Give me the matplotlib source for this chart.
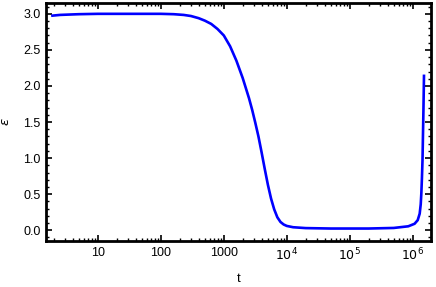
import matplotlib
matplotlib.use("Agg")
import matplotlib.pyplot as plt
from matplotlib.ticker import LogLocator, MultipleLocator, NullFormatter

plt.rcParams['font.family'] = ['Liberation Sans', 'DejaVu Sans']

# values
t = [1.9, 2.5, 3.5, 5, 10, 30, 100, 160, 230, 300, 398, 501, 631, 794, 1000,
     1259, 1585, 1995, 2512, 2818, 3162, 3548, 3981, 4467, 5012, 5623, 6310,
     7079, 7943, 8913, 10000, 12590, 19950, 5e4, 2e5, 5e5, 8.5e5, 1.07e6,
     1.2e6, 1.29e6, 1.34e6, 1.37e6, 1.40e6, 1.43e6, 1.48e6, 1.51e6]
eps = [2.975, 2.985, 2.99, 2.995, 3.0, 3.0, 3.0, 2.995, 2.985, 2.97, 2.94,
       2.905, 2.86, 2.79, 2.70, 2.55, 2.35, 2.11, 1.83, 1.67, 1.49, 1.30,
       1.08, 0.85, 0.63, 0.44, 0.29, 0.18, 0.115, 0.08, 0.06, 0.042, 0.03,
       0.024, 0.024, 0.032, 0.055, 0.09, 0.14, 0.23, 0.36, 0.51, 0.72, 0.97,
       1.67, 2.14]

xticks = [10, 100, 1000, 1e4, 1e5, 1e6]
xlabels = ['10', '100', '1000', '$10^4$', '$10^5$', '$10^6$']

fig = plt.figure(figsize=(4.36, 2.87), dpi=100)
ax = fig.add_axes([0.1055, 0.160, 0.883, 0.8295])
ax.plot(t, eps, color='#0000ff', lw=1.9, solid_joinstyle='round')

ax.set_xscale('log')
ax.set_xlim(1.5, 1.95e6)
ax.set_ylim(-0.15, 3.15)
ax.set_xticks(xticks)
ax.set_xticklabels(xlabels)
ax.xaxis.set_minor_locator(LogLocator(base=10, subs=range(2, 10), numticks=20))
ax.xaxis.set_minor_formatter(NullFormatter())
ax.yaxis.set_major_locator(MultipleLocator(0.5))
ax.yaxis.set_minor_locator(MultipleLocator(0.1))

for s in ax.spines.values():
    s.set_linewidth(2)
ax.tick_params(which='both', direction='in', top=True, right=True, color='black')
ax.tick_params(which='major', length=4, width=1.2, labelsize=9, pad=4)
ax.tick_params(which='minor', length=2.5, width=1.0)

ax.set_xlabel('t', fontsize=9.5, labelpad=7)
ax.set_ylabel(r'$\epsilon$', fontsize=9.5, labelpad=8)

fig.savefig('out.png', dpi=100)
